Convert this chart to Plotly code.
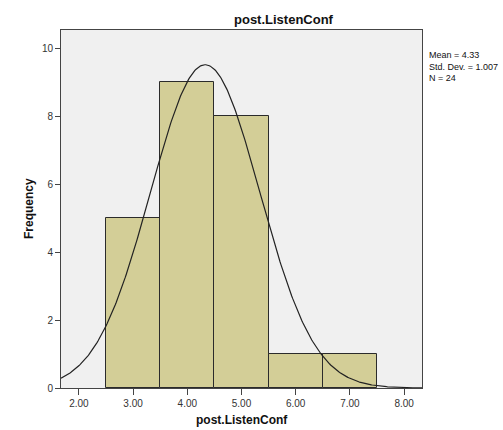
import numpy as np
import plotly.graph_objects as go

# Histogram of post.ListenConf (bin width 1)
bin_centers = [3.0, 4.0, 5.0, 6.0, 7.0]
frequencies = [5, 9, 8, 1, 1]
x_ticks = [2, 3, 4, 5, 6, 7, 8]
y_ticks = [0, 2, 4, 6, 8, 10]

mean_val = 4.33
std_val = 1.007
n_val = 24
bin_width = 1.0

x_range = [1.67, 8.33]
y_range = [0, 10.53]

# Normal curve scaled to counts
xs = np.linspace(x_range[0], x_range[1], 400)
ys = n_val * bin_width / (std_val * np.sqrt(2 * np.pi)) * np.exp(-0.5 * ((xs - mean_val) / std_val) ** 2)

font_family = "Liberation Sans, Arial, sans-serif"
W, H = 503, 430
ML, MR, MT, MB = 61, 81, 30, 42
plot_w = W - ML - MR
plot_h = H - MT - MB

fig = go.Figure()
fig.add_trace(go.Bar(
    x=bin_centers, y=frequencies, width=bin_width,
    marker=dict(color="#D3CE97", line=dict(color="#2b2b2b", width=1)),
    hoverinfo="skip",
))
fig.add_trace(go.Scatter(
    x=xs, y=ys, mode="lines",
    line=dict(color="#222222", width=1.2),
    hoverinfo="skip",
))

fig.update_layout(
    width=W, height=H,
    margin=dict(l=ML, r=MR, t=MT, b=MB),
    paper_bgcolor="white",
    plot_bgcolor="#F0F0F0",
    showlegend=False,
    bargap=0,
    font=dict(family=font_family, size=11, color="#222222"),
)

fig.update_xaxes(
    range=x_range, tickvals=x_ticks,
    ticktext=[f"{v:.2f}" for v in x_ticks],
    showgrid=False, zeroline=False,
    showline=True, linecolor="#444444", linewidth=1, mirror=True,
    ticks="outside", ticklen=6, tickcolor="#444444",
    tickfont=dict(size=10, color="#333333"),
)
fig.update_yaxes(
    range=y_range, tickvals=y_ticks,
    showgrid=False, zeroline=False,
    showline=True, linecolor="#444444", linewidth=1, mirror=True,
    ticks="outside", ticklen=5, tickcolor="#444444",
    tickfont=dict(size=10, color="#333333"),
)

# Chart title
fig.add_annotation(
    xref="paper", yref="paper", x=(284 - ML) / plot_w, y=1, yshift=11,
    xanchor="center", yanchor="middle", showarrow=False,
    text="<b>post.ListenConf</b>", font=dict(size=13, color="#111111"),
)
# X axis title
fig.add_annotation(
    xref="paper", yref="paper", x=0.5, y=0, yshift=-32,
    xanchor="center", yanchor="middle", showarrow=False,
    text="<b>post.ListenConf</b>", font=dict(size=12, color="#111111"),
)
# Y axis title
fig.add_annotation(
    xref="paper", yref="paper", x=0, xshift=-32, y=0.5,
    xanchor="center", yanchor="middle", showarrow=False, textangle=-90,
    text="<b>Frequency</b>", font=dict(size=12, color="#111111"),
)
# Summary statistics
fig.add_annotation(
    xref="paper", yref="paper", x=1.0, y=1 - 18 / plot_h,
    xshift=5, xanchor="left", yanchor="top", align="left", showarrow=False,
    text=f"Mean = {mean_val:.2f}<br>Std. Dev. = {std_val:.3f}<br>N = {n_val}",
    font=dict(size=9, color="#111111"),
)

fig.write_html("out.html")
